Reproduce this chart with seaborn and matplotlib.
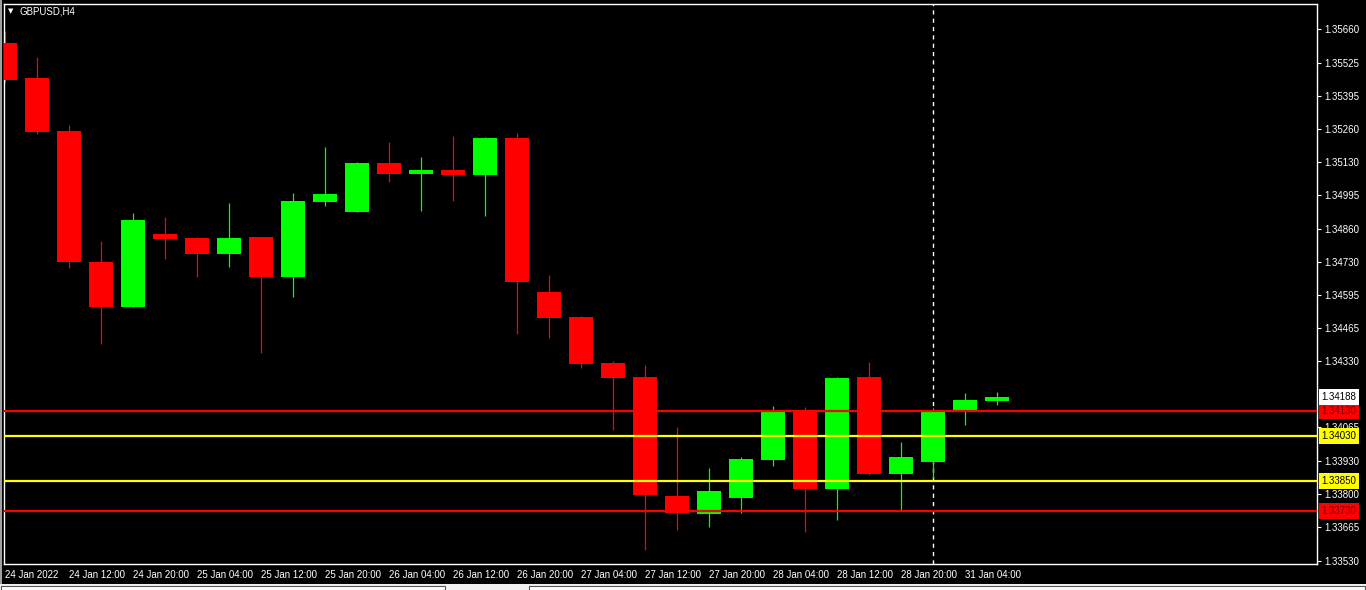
import numpy as np
import matplotlib
matplotlib.use('Agg')
import matplotlib.pyplot as plt
from matplotlib.patches import Rectangle
import seaborn as sns
import pandas as pd

# GBPUSD H4 candles
opens = [1.35606, 1.35466, 1.35253, 1.34728, 1.34549, 1.34840, 1.34824, 1.34761,
         1.34828, 1.34669, 1.34970, 1.34929, 1.35125, 1.35081, 1.35097, 1.35077,
         1.35225, 1.34608, 1.34508, 1.34323, 1.34267, 1.33790, 1.33718, 1.33782,
         1.33935, 1.34135, 1.33818, 1.34267, 1.33878, 1.33927, 1.34135, 1.34172]
highs = [1.35654, 1.35550, 1.35276, 1.34812, 1.34925, 1.34908, 1.34828, 1.34965,
         1.34830, 1.35005, 1.35189, 1.35129, 1.35209, 1.35149, 1.35233, 1.35228,
         1.35245, 1.34676, 1.34510, 1.34331, 1.34315, 1.34067, 1.33903, 1.33947,
         1.34151, 1.34147, 1.34267, 1.34327, 1.34007, 1.34143, 1.34203, 1.34209]
lows = [1.35451, 1.35241, 1.34705, 1.34401, 1.34547, 1.34741, 1.34669, 1.34709,
        1.34362, 1.34589, 1.34954, 1.34929, 1.35050, 1.34933, 1.34973, 1.34913,
        1.34440, 1.34424, 1.34305, 1.34056, 1.33574, 1.33655, 1.33666, 1.33722,
        1.33910, 1.33646, 1.33694, 1.33876, 1.33734, 1.33862, 1.34075, 1.34155]
closes = [1.35458, 1.35250, 1.34729, 1.34549, 1.34896, 1.34820, 1.34761, 1.34824,
          1.34669, 1.34973, 1.35001, 1.35125, 1.35081, 1.35097, 1.35077, 1.35225,
          1.34648, 1.34504, 1.34321, 1.34264, 1.33794, 1.33722, 1.33810, 1.33939,
          1.34131, 1.33818, 1.34263, 1.33878, 1.33947, 1.34127, 1.34175, 1.34188]

time_labels = ['24 Jan 2022', '24 Jan 12:00', '24 Jan 20:00', '25 Jan 04:00',
               '25 Jan 12:00', '25 Jan 20:00', '26 Jan 04:00', '26 Jan 12:00',
               '26 Jan 20:00', '27 Jan 04:00', '27 Jan 12:00', '27 Jan 20:00',
               '28 Jan 04:00', '28 Jan 12:00', '28 Jan 20:00', '31 Jan 04:00']
price_ticks = [1.35660, 1.35525, 1.35395, 1.35260, 1.35130, 1.34995, 1.34860,
               1.34730, 1.34595, 1.34465, 1.34330, 1.34065, 1.33930, 1.33800,
               1.33665, 1.33530]
levels = [1.34130, 1.34030, 1.33850, 1.33730]
level_colors = ['#ff0000', '#ffff00', '#ffff00', '#ff0000']
level_text = ['#7a0000', 'black', 'black', '#7a0000']
separator_bar = 29

sns.set_theme(style='dark', rc={'axes.facecolor': 'black', 'figure.facecolor': 'black',
                                'axes.edgecolor': 'white', 'axes.grid': False})
plt.rcParams['font.family'] = ['Liberation Sans', 'DejaVu Sans']

df = pd.DataFrame({'open': opens, 'high': highs, 'low': lows, 'close': closes})
df['bar'] = np.arange(len(df))
df['up'] = df['close'] >= df['open']
df['color'] = np.where(df['up'], '#00ff00', '#ff0000')

W, H = 1366, 590
fig = plt.figure(figsize=(W / 100, H / 100), dpi=100)
ax = fig.add_axes([4 / W, 26 / H, 1313 / W, 560 / H])

ax.axvline(separator_bar, color='white', lw=1, ls=(0, (3, 3)), zorder=1)
ax.vlines(df['bar'], df['low'], df['high'], colors=df['color'], lw=0.9, zorder=2)
body_low = df[['open', 'close']].min(axis=1)
body_h = (df['close'] - df['open']).abs().clip(lower=0.00004)
ax.bar(df['bar'], body_h, bottom=body_low, width=0.78, color=df['color'],
       linewidth=0, zorder=3)

for lv, c in zip(levels, level_colors):
    ax.axhline(lv, color=c, lw=1.6, zorder=4)

ax.set_xlim(-1 / 32, 41.0)
ax.set_ylim(1.33518, 1.35762)

ax.set_xticks(np.arange(0, 2 * len(time_labels), 2))
ax.set_xticklabels(time_labels, ha='left')
ax.set_yticks(price_ticks)
ax.set_yticklabels(['%.5f' % v for v in price_ticks])
ax.yaxis.tick_right()
ax.tick_params(axis='both', colors='white', labelsize=7, length=3, width=0.8,
               direction='out', pad=2)
ax.tick_params(axis='x', pad=1)
for s in ax.spines.values():
    s.set_color('white')
    s.set_linewidth(1)

# price labels on the right axis
tr = ax.get_yaxis_transform()
for lv, c, tc in zip(levels, level_colors, level_text):
    ax.text(1.0035, lv, '%.5f' % lv, transform=tr, ha='left', va='center', fontsize=7,
            color=tc, clip_on=False, zorder=6,
            bbox=dict(boxstyle='square,pad=0.3', fc=c, ec='none'))
ax.text(1.0035, closes[-1], '%.5f' % closes[-1], transform=tr, ha='left', va='center',
        fontsize=7, color='black', clip_on=False, zorder=6,
        bbox=dict(boxstyle='square,pad=0.3', fc='white', ec='none'))

fig.text(8 / W, 1 - 11 / H, '\u25bc', color='white', fontsize=5, va='center', ha='left',
         family='DejaVu Sans')
fig.text(20 / W, 1 - 11 / H, 'GBPUSD,H4', color='white', fontsize=7, va='center', ha='left')

# window chrome at the bottom and left
fig.patches.append(Rectangle((0, 0), 1, 6 / H, transform=fig.transFigure, fc='#f0f0f0',
                             ec='none', zorder=0))
fig.patches.append(Rectangle((1 / W, 0), 444 / W, 4 / H, transform=fig.transFigure,
                             fc='white', ec='#555555', lw=0.8, zorder=1))
fig.patches.append(Rectangle((529 / W, 0), 836 / W, 4 / H, transform=fig.transFigure,
                             fc='white', ec='#555555', lw=0.8, zorder=1))
fig.patches.append(Rectangle((0, 6 / H), 2 / W, 1 - 6 / H, transform=fig.transFigure,
                             fc='#a0a0a0', ec='none', zorder=0))

fig.savefig('out.png', dpi=100, facecolor='black')
